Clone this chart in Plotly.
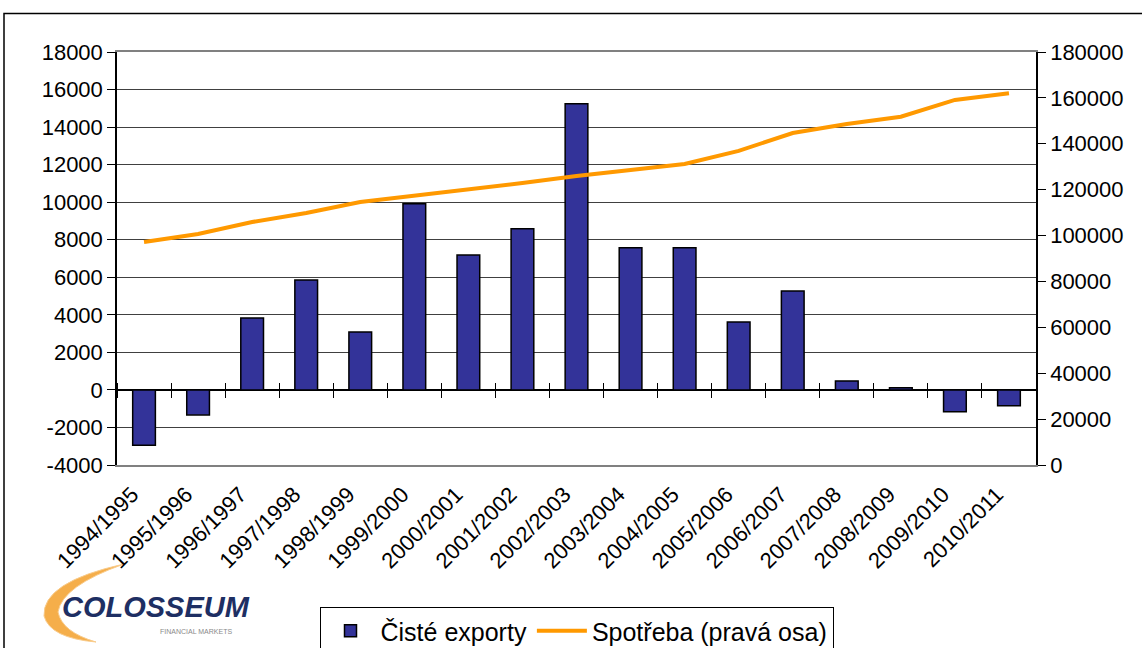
import plotly.graph_objects as go

# Marketing years
seasons = ["1994/1995", "1995/1996", "1996/1997", "1997/1998", "1998/1999",
           "1999/2000", "2000/2001", "2001/2002", "2002/2003", "2003/2004",
           "2004/2005", "2005/2006", "2006/2007", "2007/2008", "2008/2009",
           "2009/2010", "2010/2011"]

# Net exports (left axis)
net_exports = [-2950, -1330, 3830, 5860, 3090, 9910, 7190, 8580, 15240,
               7570, 7570, 3620, 5270, 480, 120, -1170, -850]

# Consumption (right axis)
consumption = [97200, 100700, 105900, 109800, 114600, 117300, 120300,
               122900, 126000, 128600, 131200, 136900, 144700, 148600,
               151800, 159100, 162000]

left_ticks = list(range(-4000, 18001, 2000))
right_ticks = list(range(0, 180001, 20000))

FONT = "Liberation Sans, Arial, sans-serif"
W, H = 1142, 648
ML, MR, MT, MB = 117, 106, 52, 183
PW, PH = W - ML - MR, H - MT - MB


def px(x):
    return (x - ML) / PW


def py(y):
    return (H - MB - y) / PH


n = len(seasons)
boundaries = [i - 0.5 for i in range(n + 1)]
zero_pos = (0 - left_ticks[0]) / (left_ticks[-1] - left_ticks[0])

fig = go.Figure()

fig.add_trace(go.Bar(
    x=seasons, y=net_exports, name="Čisté exporty",
    marker=dict(color="#333399", line=dict(color="black", width=1.5)),
    yaxis="y",
))
fig.add_trace(go.Scatter(
    x=seasons, y=consumption, name="Spotřeba (pravá osa)",
    mode="lines", line=dict(color="#FF9900", width=4),
    yaxis="y2",
))
# helper traces so the category tick axes on the zero line get drawn
for ax in ("x2", "x3"):
    fig.add_trace(go.Scatter(x=[None], y=[None], xaxis=ax, yaxis="y",
                             showlegend=False, hoverinfo="skip"))

fig.update_layout(
    width=W, height=H,
    margin=dict(l=ML, r=MR, t=MT, b=MB, autoexpand=False),
    paper_bgcolor="white", plot_bgcolor="white",
    font=dict(family=FONT, size=22, color="black"),
    bargap=0.58,
    showlegend=True,
    legend=dict(
        orientation="h", x=0.5, xanchor="center", y=py(607), yanchor="top",
        bordercolor="black", borderwidth=1, bgcolor="white",
        font=dict(family=FONT, size=25, color="black"),
        itemwidth=50, tracegroupgap=0,
    ),
    xaxis=dict(
        type="category", range=[-0.5, n - 0.5], automargin=False,
        tickangle=-45, ticks="", showgrid=False,
        ticklabelshift=-12, ticklabelstandoff=6,
        showline=True, linecolor="#808080", linewidth=2, mirror=True,
        tickfont=dict(family=FONT, size=22, color="black"),
    ),
    xaxis2=dict(
        overlaying="x", anchor="free", position=zero_pos, side="bottom",
        range=[-0.5, n - 0.5], tickvals=boundaries, showticklabels=False,
        ticks="outside", ticklen=7, tickwidth=1, tickcolor="black",
        showgrid=False, zeroline=False, showline=False, automargin=False,
    ),
    xaxis3=dict(
        overlaying="x", anchor="free", position=zero_pos, side="top",
        range=[-0.5, n - 0.5], tickvals=boundaries, showticklabels=False,
        ticks="outside", ticklen=7, tickwidth=1, tickcolor="black",
        showgrid=False, zeroline=False, showline=False, automargin=False,
    ),
    yaxis=dict(
        range=[left_ticks[0], left_ticks[-1]], tickvals=left_ticks,
        ticktext=[str(v) for v in left_ticks], automargin=False,
        ticks="outside", ticklen=8, tickcolor="black", tickwidth=1,
        showline=True, linecolor="black", linewidth=1.5,
        showgrid=True, gridcolor="#404040", gridwidth=1,
        zeroline=True, zerolinecolor="black", zerolinewidth=1.5,
        tickfont=dict(family=FONT, size=22, color="black"),
    ),
    yaxis2=dict(
        overlaying="y", side="right", automargin=False,
        range=[right_ticks[0], right_ticks[-1]], tickvals=right_ticks,
        ticktext=[str(v) for v in right_ticks],
        ticks="outside", ticklen=8, tickcolor="black", tickwidth=1,
        showline=True, linecolor="black", linewidth=1.5,
        showgrid=False, zeroline=False,
        tickfont=dict(family=FONT, size=22, color="black"),
    ),
)

# outer chart frame
fig.add_shape(type="rect", xref="paper", yref="paper",
              x0=px(4), x1=px(W + 20), y0=py(H + 20), y1=py(13.5),
              line=dict(color="black", width=1.5), fillcolor="rgba(0,0,0,0)",
              layer="below")

# company logo: orange swoosh and wordmark
swoosh = (f"M {px(124)},{py(564)} "
          f"Q {px(42)},{py(582)} {px(44)},{py(616)} "
          f"Q {px(50)},{py(638)} {px(96)},{py(642)} "
          f"Q {px(62)},{py(632)} {px(58)},{py(612)} "
          f"Q {px(62)},{py(586)} {px(124)},{py(564)} Z")
fig.add_shape(type="path", xref="paper", yref="paper", path=swoosh,
              fillcolor="#F39A1E", line=dict(color="#F8C070", width=1),
              opacity=0.8, layer="below")
fig.add_annotation(xref="paper", yref="paper", x=px(156), y=py(607),
                   text="<b><i>COLOSSEUM</i></b>", showarrow=False,
                   font=dict(family=FONT, size=29, color="#1E2F63"),
                   xanchor="center", yanchor="middle")
fig.add_annotation(xref="paper", yref="paper", x=px(196), y=py(631),
                   text="FINANCIAL MARKETS", showarrow=False,
                   font=dict(family=FONT, size=7, color="#8A8A8A"),
                   xanchor="center", yanchor="middle")

fig.write_html("out.html")
